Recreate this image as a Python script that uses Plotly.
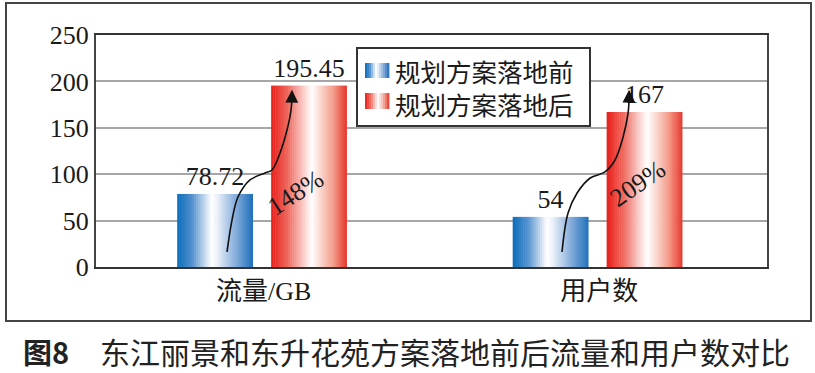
import plotly.graph_objects as go
from plotly.colors import sample_colorscale

# ---- data ----
categories = ["流量/GB", "用户数"]
series_names = ["规划方案落地前", "规划方案落地后"]
before_values = [78.72, 54]
after_values = [195.45, 167]
growth_labels = ["148%", "209%"]
y_ticks = [0, 50, 100, 150, 200, 250]
caption_prefix = "图8"
caption_text = "东江丽景和东升花苑方案落地前后流量和用户数对比"

# decorative arrow paths (data coords)
arrow1_x = [-0.1095, -0.0946, -0.0768, -0.041, 0.0037, 0.0246, 0.0484, 0.0693, 0.0813, 0.0842]
arrow1_y = [16.2, 50.6, 75.4, 93.8, 101.3, 104.5, 122.8, 147.6, 169.2, 186.0]
arrow2_x = [0.889, 0.907, 0.934, 0.973, 1.017, 1.047, 1.071, 1.086, 1.089]
arrow2_y = [16.2, 58.2, 79.7, 95.9, 102.4, 115.3, 140.1, 166.0, 186.0]

# ---- style ----
blue_scale = [[0, "#0b6cb9"], [0.2, "#5592d0"], [0.45, "#ffffff"], [0.52, "#eef3fb"],
              [0.78, "#80a9d9"], [1, "#1d6fba"]]
red_scale = [[0, "#e61f1b"], [0.22, "#f06a5f"], [0.53, "#ffffff"], [0.6, "#fde9e4"],
             [0.82, "#f39c8a"], [1, "#e6342a"]]
N = 36
bar_w = 0.226
off_before = -0.258
off_after = 0.022
serif = "Liberation Serif, Noto Sans CJK SC"
cjk = "Noto Sans CJK SC"

fig = go.Figure()
xs = list(range(len(categories)))


def add_gradient_bars(values, offset, scale):
    cols = sample_colorscale(scale, [(i + 0.5) / N for i in range(N)])
    sw = bar_w / N
    for i, c in enumerate(cols):
        fig.add_trace(go.Bar(
            x=xs, y=values, width=sw * 1.25 if i < N - 1 else sw,
            offset=offset + i * sw, marker=dict(color=c, line=dict(width=0)),
            showlegend=False, hoverinfo="skip"))


add_gradient_bars(before_values, off_before, blue_scale)
add_gradient_bars(after_values, off_after, red_scale)

# value labels via transparent bars
for vals, off, name in [(before_values, off_before, series_names[0]),
                        (after_values, off_after, series_names[1])]:
    fig.add_trace(go.Bar(
        x=xs, y=vals, width=bar_w, offset=off, name=name,
        marker=dict(color="rgba(0,0,0,0)", line=dict(width=0)),
        text=[f"{v:g}" for v in vals], textposition="outside",
        textfont=dict(family=serif, size=26, color="#1a1a1a"),
        constraintext="none", cliponaxis=False, showlegend=False))

# curved arrows
for ax_, ay_ in [(arrow1_x, arrow1_y), (arrow2_x, arrow2_y)]:
    fig.add_trace(go.Scatter(x=ax_, y=ay_, mode="lines",
                             line=dict(color="#111", width=1.6, shape="spline", smoothing=1.0),
                             showlegend=False, hoverinfo="skip"))
    fig.add_annotation(x=ax_[-1], y=ay_[-1] + 5, ax=ax_[-1] - 0.0005, ay=ay_[-1] - 8,
                       xref="x", yref="y", axref="x", ayref="y", text="",
                       showarrow=True, arrowhead=2, arrowsize=1.6, arrowwidth=1.6,
                       arrowcolor="#111")

# rotated growth labels
fig.add_annotation(x=0.096, y=80.8, text=growth_labels[0], showarrow=False, textangle=-33,
                   font=dict(family=serif, size=26, color="#1a1a1a"))
fig.add_annotation(x=1.115, y=90.5, text=growth_labels[1], showarrow=False, textangle=-35,
                   font=dict(family=serif, size=26, color="#1a1a1a"))


# ---- helpers: screen pixel -> paper ----
def px_x(p):
    return (p - 96) / 671


def px_y(p):
    return (267 - p) / 232


shapes = []
# outer frame
shapes.append(dict(type="rect", xref="paper", yref="paper",
                   x0=px_x(6), x1=px_x(811), y0=px_y(321), y1=px_y(3),
                   line=dict(color="#444", width=2), fillcolor="rgba(0,0,0,0)", layer="below"))
# legend box
shapes.append(dict(type="rect", xref="paper", yref="paper",
                   x0=px_x(357), x1=px_x(590), y0=px_y(126), y1=px_y(48),
                   line=dict(color="#333", width=2), fillcolor="white", layer="above"))
M = 12
for (yt, yb), scale in [((63, 78), blue_scale), ((93, 109), red_scale)]:
    cols = sample_colorscale(scale, [(i + 0.5) / M for i in range(M)])
    sw = (389 - 365) / M
    for i, c in enumerate(cols):
        shapes.append(dict(type="rect", xref="paper", yref="paper",
                           x0=px_x(365 + i * sw), x1=px_x(365 + (i + 1) * sw + 0.4),
                           y0=px_y(yb), y1=px_y(yt), line=dict(width=0),
                           fillcolor=c, layer="above"))
fig.add_annotation(xref="paper", yref="paper", x=px_x(393), y=px_y(87),
                   xanchor="left", yanchor="middle", align="left",
                   text="<br>".join(series_names), showarrow=False,
                   font=dict(family=cjk, size=25.5, color="#1a1a1a"))

# caption
fig.add_annotation(xref="paper", yref="paper", x=px_x(21), y=px_y(351),
                   xanchor="left", yanchor="middle", text=caption_prefix,
                   showarrow=False, font=dict(family=cjk, size=29, color="#222", weight=600))
fig.add_annotation(xref="paper", yref="paper", x=px_x(98), y=px_y(351),
                   xanchor="left", yanchor="middle", text=caption_text,
                   showarrow=False, font=dict(family=cjk, size=30, color="#222"))

fig.update_layout(
    width=815, height=373,
    margin=dict(l=96, r=48, t=35, b=106),
    paper_bgcolor="white", plot_bgcolor="white", barmode="overlay",
    shapes=shapes, showlegend=False,
    xaxis=dict(range=[-0.5, 1.5], tickmode="array", tickvals=xs, ticktext=categories,
               showgrid=False, zeroline=False, showline=True, linecolor="#333", linewidth=2,
               mirror=True, ticks="", tickfont=dict(family=serif, size=26, color="#1a1a1a"),
               fixedrange=True),
    yaxis=dict(range=[0, 250], tickmode="array", tickvals=y_ticks,
               showgrid=True, gridcolor="#a6a6a6", gridwidth=1.6, zeroline=False,
               showline=True, linecolor="#444", linewidth=2, mirror=True, ticks="",
               tickfont=dict(family="Liberation Serif", size=26, color="#1a1a1a"),
               fixedrange=True),
)

fig.write_html("out.html", config={"displayModeBar": False},
               post_script="document.body.style.margin='0px';")
